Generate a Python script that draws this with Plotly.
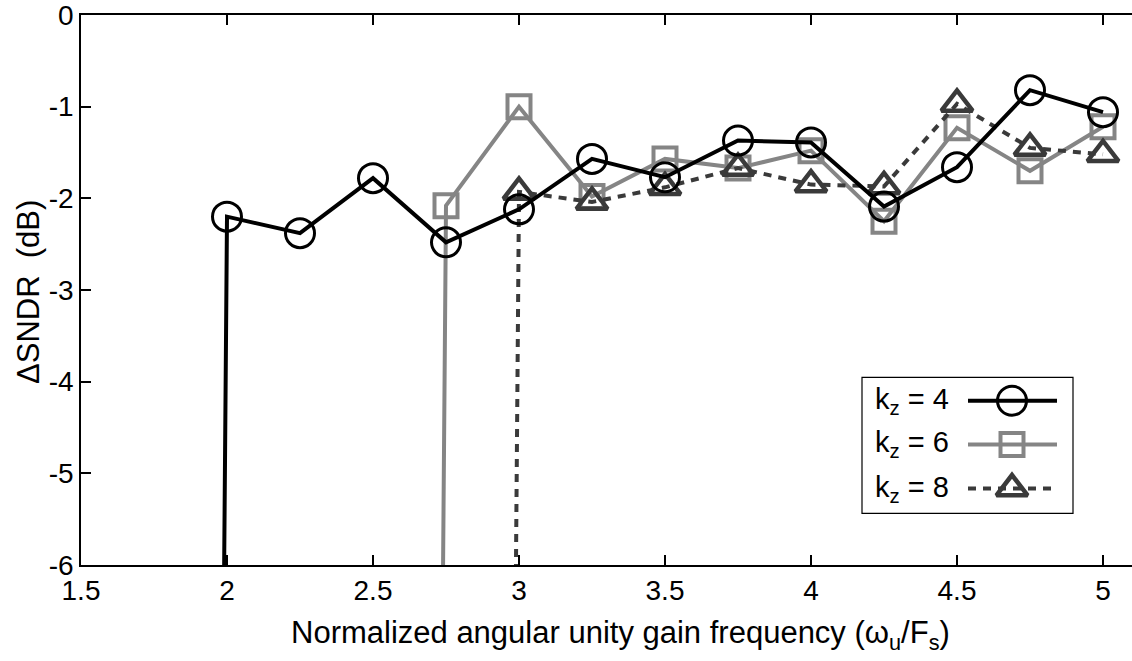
import plotly.graph_objects as go

# Normalized angular unity gain frequency (omega_u / Fs)
freq_k4 = [1.75, 2.00, 2.25, 2.50, 2.75, 3.00, 3.25, 3.50, 3.75, 4.00, 4.25, 4.50, 4.75, 5.00]
freq_k6 = [2.50, 2.75, 3.00, 3.25, 3.50, 3.75, 4.00, 4.25, 4.50, 4.75, 5.00]
freq_k8 = [2.75, 3.00, 3.25, 3.50, 3.75, 4.00, 4.25, 4.50, 4.75, 5.00]

# SNDR change in dB (first entry of each series: unstable loop, far below the axis)
dsndr_k4 = [-100, -2.20, -2.38, -1.78, -2.48, -2.12, -1.57, -1.77, -1.37, -1.39, -2.09, -1.66, -0.82, -1.06]
dsndr_k6 = [-100, -2.08, -1.00, -1.98, -1.57, -1.67, -1.48, -2.25, -1.23, -1.70, -1.22]
dsndr_k8 = [-100, -1.93, -2.04, -1.88, -1.67, -1.85, -1.87, -0.97, -1.45, -1.52]

x_ticks = [1.5, 2, 2.5, 3, 3.5, 4, 4.5, 5]
y_ticks = [0, -1, -2, -3, -4, -5, -6]

legend_labels = ["k<sub>z</sub> = 4", "k<sub>z</sub> = 6", "k<sub>z</sub> = 8"]

FONT = "Arial, Liberation Sans, sans-serif"
W, H = 1132, 661
L, R, T, B = 81, 0, 11, 96
PX_PER_UNIT = 292.0

styles = {
    "k4": dict(color="#000000", width=4, dash="solid", symbol="circle-open", size=29, mlw=3),
    "k6": dict(color="#858585", width=4, dash="solid", symbol="square-open", size=23, mlw=4),
    "k8": dict(color="#3a3a3a", width=4, dash="8px,7px", symbol="triangle-up-open", size=27, mlw=4.5),
}

fig = go.Figure()

series = [("k6", freq_k6, dsndr_k6), ("k8", freq_k8, dsndr_k8), ("k4", freq_k4, dsndr_k4)]
for key, xs, ys in series:
    s = styles[key]
    fig.add_trace(go.Scatter(
        x=xs, y=ys, mode="lines+markers", showlegend=False,
        line=dict(color=s["color"], width=s["width"], dash=s["dash"]),
        marker=dict(symbol=s["symbol"], size=s["size"], color=s["color"],
                    line=dict(width=s["mlw"], color=s["color"])),
    ))

# Legend drawn on an overlay axis measured in pixels
x_lo = 1.5
x_hi = x_lo + (W - L - R) / PX_PER_UNIT
plot_top, plot_bot = T, H - B

legend_rows_y = [399.5, 443.5, 488.0]
line_x0, line_x1, mark_x = 968, 1057, 1012
for key, ry in zip(["k4", "k6", "k8"], legend_rows_y):
    s = styles[key]
    fig.add_trace(go.Scatter(
        x=[line_x0, line_x1], y=[ry, ry], mode="lines", xaxis="x2", yaxis="y2",
        showlegend=False, hoverinfo="skip",
        line=dict(color=s["color"], width=s["width"], dash=s["dash"]),
    ))
    fig.add_trace(go.Scatter(
        x=[mark_x], y=[ry], mode="markers", xaxis="x2", yaxis="y2",
        showlegend=False, hoverinfo="skip",
        marker=dict(symbol=s["symbol"], size=s["size"], color=s["color"],
                    line=dict(width=s["mlw"], color=s["color"])),
    ))

annotations = []
for lbl, ry in zip(legend_labels, legend_rows_y):
    annotations.append(dict(
        text=lbl, x=873, y=ry, xref="x2", yref="y2", xanchor="left", yanchor="middle",
        showarrow=False, font=dict(family=FONT, size=29, color="#000000"),
    ))

# Axis titles
annotations.append(dict(
    text="Normalized angular unity gain frequency (\u03c9<sub>u</sub>/F<sub>s</sub>)",
    x=(620 - L) / (W - L - R), y=(plot_bot - 636) / (plot_bot - plot_top),
    xref="paper", yref="paper", xanchor="center", yanchor="middle", showarrow=False,
    font=dict(family=FONT, size=31, color="#000000"),
))
annotations.append(dict(
    text="\u0394SNDR\u00a0 (dB)",
    x=(29 - L) / (W - L - R), y=(plot_bot - 290) / (plot_bot - plot_top),
    xref="paper", yref="paper", xanchor="center", yanchor="middle", showarrow=False,
    textangle=-90, font=dict(family=FONT, size=31, color="#000000"),
))

fig.update_layout(
    width=W, height=H,
    margin=dict(l=L, r=R, t=T, b=B, pad=0),
    paper_bgcolor="white", plot_bgcolor="white",
    font=dict(family=FONT, size=28, color="#000000"),
    xaxis=dict(
        range=[x_lo, x_hi], tickvals=x_ticks, ticktext=[f"{v:g}" for v in x_ticks],
        ticks="inside", ticklen=10, tickwidth=1.5, tickcolor="#000000",
        showline=True, linecolor="#000000", linewidth=1.5, mirror="ticks",
        showgrid=False, zeroline=False, tickfont=dict(size=28),
        ticklabeloverflow="allow",
    ),
    yaxis=dict(
        range=[-6, 0], tickvals=y_ticks, ticktext=[f"{v:g}" for v in y_ticks],
        ticks="inside", ticklen=10, tickwidth=1.5, tickcolor="#000000",
        showline=True, linecolor="#000000", linewidth=1.5,
        showgrid=False, zeroline=False, tickfont=dict(size=28),
        ticklabeloverflow="allow",
    ),
    xaxis2=dict(overlaying="x", anchor="y2", range=[L, W - R], visible=False, fixedrange=True),
    yaxis2=dict(overlaying="y", anchor="x2", range=[plot_bot, plot_top], visible=False, fixedrange=True),
    shapes=[dict(
        type="rect", xref="x2", yref="y2", x0=862, x1=1073, y0=376, y1=513,
        line=dict(color="#000000", width=1.2), fillcolor="white", layer="below",
    )],
    annotations=annotations,
    showlegend=False,
)

fig.write_html("out.html")
